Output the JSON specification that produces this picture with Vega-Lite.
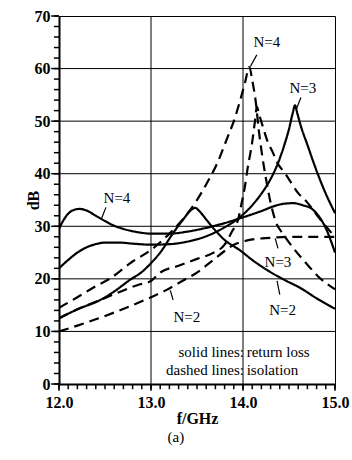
{
  "$schema": "https://vega.github.io/schema/vega-lite/v6.json",
  "width": 276,
  "height": 368,
  "autosize": {"type": "none"},
  "padding": {"left": 59, "top": 16, "right": 17, "bottom": 76},
  "background": "white",
  "config": {"view": {"stroke": "black", "strokeWidth": 1}, "font": "Liberation Serif"},
  "datasets": {
    "vgrid": [{"x": 13}, {"x": 14}],
    "hgrid": [{"y": 10}, {"y": 20}, {"y": 30}, {"y": 40}, {"y": 50}, {"y": 60}],
    "yticks": [{"y": 0}, {"y": 2}, {"y": 4}, {"y": 6}, {"y": 8}, {"y": 10}, {"y": 12}, {"y": 14}, {"y": 16}, {"y": 18}, {"y": 20}, {"y": 22}, {"y": 24}, {"y": 26}, {"y": 28}, {"y": 30}, {"y": 32}, {"y": 34}, {"y": 36}, {"y": 38}, {"y": 40}, {"y": 42}, {"y": 44}, {"y": 46}, {"y": 48}, {"y": 50}, {"y": 52}, {"y": 54}, {"y": 56}, {"y": 58}, {"y": 60}, {"y": 62}, {"y": 64}, {"y": 66}, {"y": 68}, {"y": 70}],
    "ymajor": [{"y": 0}, {"y": 10}, {"y": 20}, {"y": 30}, {"y": 40}, {"y": 50}, {"y": 60}, {"y": 70}],
    "xticks": [{"x": 12}, {"x": 12.1}, {"x": 12.2}, {"x": 12.3}, {"x": 12.4}, {"x": 12.5}, {"x": 12.6}, {"x": 12.7}, {"x": 12.8}, {"x": 12.9}, {"x": 13}, {"x": 13.1}, {"x": 13.2}, {"x": 13.3}, {"x": 13.4}, {"x": 13.5}, {"x": 13.6}, {"x": 13.7}, {"x": 13.8}, {"x": 13.9}, {"x": 14}, {"x": 14.1}, {"x": 14.2}, {"x": 14.3}, {"x": 14.4}, {"x": 14.5}, {"x": 14.6}, {"x": 14.7}, {"x": 14.8}, {"x": 14.9}, {"x": 15}],
    "xmajor": [{"x": 12}, {"x": 13}, {"x": 14}, {"x": 15}],
    "curves": [
      {"curve": "N4s", "style": "solid", "x": 12.0, "y": 29.5},
      {"curve": "N4s", "style": "solid", "x": 12.05, "y": 31.2},
      {"curve": "N4s", "style": "solid", "x": 12.1, "y": 32.4},
      {"curve": "N4s", "style": "solid", "x": 12.16, "y": 33.1},
      {"curve": "N4s", "style": "solid", "x": 12.22, "y": 33.3},
      {"curve": "N4s", "style": "solid", "x": 12.3, "y": 33.0},
      {"curve": "N4s", "style": "solid", "x": 12.4, "y": 32.0},
      {"curve": "N4s", "style": "solid", "x": 12.5, "y": 31.0},
      {"curve": "N4s", "style": "solid", "x": 12.6, "y": 30.1},
      {"curve": "N4s", "style": "solid", "x": 12.7, "y": 29.5},
      {"curve": "N4s", "style": "solid", "x": 12.85, "y": 28.9},
      {"curve": "N4s", "style": "solid", "x": 13.0, "y": 28.6},
      {"curve": "N4s", "style": "solid", "x": 13.2, "y": 28.6},
      {"curve": "N4s", "style": "solid", "x": 13.4, "y": 29.0},
      {"curve": "N4s", "style": "solid", "x": 13.6, "y": 29.7},
      {"curve": "N4s", "style": "solid", "x": 13.8, "y": 30.6},
      {"curve": "N4s", "style": "solid", "x": 14.0, "y": 31.7},
      {"curve": "N4s", "style": "solid", "x": 14.2, "y": 32.9},
      {"curve": "N4s", "style": "solid", "x": 14.35, "y": 33.9},
      {"curve": "N4s", "style": "solid", "x": 14.45, "y": 34.3},
      {"curve": "N4s", "style": "solid", "x": 14.55, "y": 34.4},
      {"curve": "N4s", "style": "solid", "x": 14.65, "y": 34.0},
      {"curve": "N4s", "style": "solid", "x": 14.75, "y": 33.3},
      {"curve": "N4s", "style": "solid", "x": 14.82, "y": 32.0},
      {"curve": "N4s", "style": "solid", "x": 14.89, "y": 30.0},
      {"curve": "N4s", "style": "solid", "x": 14.95, "y": 27.5},
      {"curve": "N4s", "style": "solid", "x": 15.0, "y": 25.0},

      {"curve": "N3s", "style": "solid", "x": 12.0, "y": 22.0},
      {"curve": "N3s", "style": "solid", "x": 12.1, "y": 23.6},
      {"curve": "N3s", "style": "solid", "x": 12.2, "y": 25.0},
      {"curve": "N3s", "style": "solid", "x": 12.3, "y": 26.0},
      {"curve": "N3s", "style": "solid", "x": 12.4, "y": 26.6},
      {"curve": "N3s", "style": "solid", "x": 12.5, "y": 26.9},
      {"curve": "N3s", "style": "solid", "x": 12.65, "y": 26.9},
      {"curve": "N3s", "style": "solid", "x": 12.8, "y": 26.7},
      {"curve": "N3s", "style": "solid", "x": 13.0, "y": 26.5},
      {"curve": "N3s", "style": "solid", "x": 13.2, "y": 26.6},
      {"curve": "N3s", "style": "solid", "x": 13.4, "y": 27.1},
      {"curve": "N3s", "style": "solid", "x": 13.6, "y": 28.1},
      {"curve": "N3s", "style": "solid", "x": 13.8, "y": 29.8},
      {"curve": "N3s", "style": "solid", "x": 13.95, "y": 31.5},
      {"curve": "N3s", "style": "solid", "x": 14.1, "y": 34.0},
      {"curve": "N3s", "style": "solid", "x": 14.2, "y": 36.2},
      {"curve": "N3s", "style": "solid", "x": 14.3, "y": 39.0},
      {"curve": "N3s", "style": "solid", "x": 14.38, "y": 42.0},
      {"curve": "N3s", "style": "solid", "x": 14.45, "y": 45.5},
      {"curve": "N3s", "style": "solid", "x": 14.5, "y": 48.5},
      {"curve": "N3s", "style": "solid", "x": 14.54, "y": 51.5},
      {"curve": "N3s", "style": "solid", "x": 14.565, "y": 53.0},
      {"curve": "N3s", "style": "solid", "x": 14.59, "y": 51.5},
      {"curve": "N3s", "style": "solid", "x": 14.63, "y": 49.0},
      {"curve": "N3s", "style": "solid", "x": 14.7, "y": 45.5},
      {"curve": "N3s", "style": "solid", "x": 14.78, "y": 41.5},
      {"curve": "N3s", "style": "solid", "x": 14.88, "y": 37.0},
      {"curve": "N3s", "style": "solid", "x": 15.0, "y": 32.5},

      {"curve": "N2s", "style": "solid", "x": 12.0, "y": 12.5},
      {"curve": "N2s", "style": "solid", "x": 12.2, "y": 14.2},
      {"curve": "N2s", "style": "solid", "x": 12.45, "y": 16.0},
      {"curve": "N2s", "style": "solid", "x": 12.6, "y": 17.6},
      {"curve": "N2s", "style": "solid", "x": 12.77, "y": 19.8},
      {"curve": "N2s", "style": "solid", "x": 12.9, "y": 21.3},
      {"curve": "N2s", "style": "solid", "x": 13.0, "y": 23.0},
      {"curve": "N2s", "style": "solid", "x": 13.1, "y": 25.0},
      {"curve": "N2s", "style": "solid", "x": 13.24, "y": 28.7},
      {"curve": "N2s", "style": "solid", "x": 13.35, "y": 31.3},
      {"curve": "N2s", "style": "solid", "x": 13.43, "y": 33.0},
      {"curve": "N2s", "style": "solid", "x": 13.48, "y": 33.5},
      {"curve": "N2s", "style": "solid", "x": 13.53, "y": 32.8},
      {"curve": "N2s", "style": "solid", "x": 13.6, "y": 31.3},
      {"curve": "N2s", "style": "solid", "x": 13.67, "y": 29.8},
      {"curve": "N2s", "style": "solid", "x": 13.8, "y": 27.4},
      {"curve": "N2s", "style": "solid", "x": 13.97, "y": 25.4},
      {"curve": "N2s", "style": "solid", "x": 14.1, "y": 23.6},
      {"curve": "N2s", "style": "solid", "x": 14.26, "y": 21.7},
      {"curve": "N2s", "style": "solid", "x": 14.45, "y": 19.8},
      {"curve": "N2s", "style": "solid", "x": 14.62, "y": 18.3},
      {"curve": "N2s", "style": "solid", "x": 14.8, "y": 16.3},
      {"curve": "N2s", "style": "solid", "x": 15.0, "y": 14.3},

      {"curve": "N4d", "style": "dashed", "x": 12.0, "y": 14.5},
      {"curve": "N4d", "style": "dashed", "x": 12.2, "y": 16.5},
      {"curve": "N4d", "style": "dashed", "x": 12.4, "y": 18.6},
      {"curve": "N4d", "style": "dashed", "x": 12.55, "y": 20.0},
      {"curve": "N4d", "style": "dashed", "x": 12.8, "y": 23.3},
      {"curve": "N4d", "style": "dashed", "x": 13.0, "y": 25.5},
      {"curve": "N4d", "style": "dashed", "x": 13.2, "y": 28.6},
      {"curve": "N4d", "style": "dashed", "x": 13.32, "y": 30.8},
      {"curve": "N4d", "style": "dashed", "x": 13.5, "y": 35.0},
      {"curve": "N4d", "style": "dashed", "x": 13.62, "y": 38.6},
      {"curve": "N4d", "style": "dashed", "x": 13.72, "y": 42.0},
      {"curve": "N4d", "style": "dashed", "x": 13.82, "y": 46.4},
      {"curve": "N4d", "style": "dashed", "x": 13.9, "y": 50.0},
      {"curve": "N4d", "style": "dashed", "x": 13.97, "y": 54.0},
      {"curve": "N4d", "style": "dashed", "x": 14.02, "y": 57.2},
      {"curve": "N4d", "style": "dashed", "x": 14.07, "y": 60.3},
      {"curve": "N4d", "style": "dashed", "x": 14.1, "y": 57.8},
      {"curve": "N4d", "style": "dashed", "x": 14.14, "y": 53.5},
      {"curve": "N4d", "style": "dashed", "x": 14.17, "y": 48.5},
      {"curve": "N4d", "style": "dashed", "x": 14.2, "y": 44.5},
      {"curve": "N4d", "style": "dashed", "x": 14.25, "y": 39.0},
      {"curve": "N4d", "style": "dashed", "x": 14.3, "y": 34.5},
      {"curve": "N4d", "style": "dashed", "x": 14.35, "y": 31.2},
      {"curve": "N4d", "style": "dashed", "x": 14.45, "y": 28.2},
      {"curve": "N4d", "style": "dashed", "x": 14.55, "y": 25.8},
      {"curve": "N4d", "style": "dashed", "x": 14.7, "y": 22.7},
      {"curve": "N4d", "style": "dashed", "x": 14.82, "y": 20.4},
      {"curve": "N4d", "style": "dashed", "x": 15.0, "y": 18.0},

      {"curve": "N3d", "style": "dashed", "x": 12.0, "y": 12.5},
      {"curve": "N3d", "style": "dashed", "x": 12.2, "y": 14.2},
      {"curve": "N3d", "style": "dashed", "x": 12.45, "y": 16.0},
      {"curve": "N3d", "style": "dashed", "x": 12.7, "y": 17.8},
      {"curve": "N3d", "style": "dashed", "x": 12.85, "y": 18.8},
      {"curve": "N3d", "style": "dashed", "x": 13.0, "y": 19.6},
      {"curve": "N3d", "style": "dashed", "x": 13.1, "y": 21.2},
      {"curve": "N3d", "style": "dashed", "x": 13.3, "y": 22.5},
      {"curve": "N3d", "style": "dashed", "x": 13.5, "y": 23.8},
      {"curve": "N3d", "style": "dashed", "x": 13.67, "y": 24.9},
      {"curve": "N3d", "style": "dashed", "x": 13.8, "y": 26.5},
      {"curve": "N3d", "style": "dashed", "x": 13.88, "y": 29.0},
      {"curve": "N3d", "style": "dashed", "x": 13.95, "y": 31.5},
      {"curve": "N3d", "style": "dashed", "x": 13.98, "y": 34.0},
      {"curve": "N3d", "style": "dashed", "x": 14.02, "y": 37.5},
      {"curve": "N3d", "style": "dashed", "x": 14.05, "y": 41.0},
      {"curve": "N3d", "style": "dashed", "x": 14.1, "y": 46.0},
      {"curve": "N3d", "style": "dashed", "x": 14.13, "y": 50.0},
      {"curve": "N3d", "style": "dashed", "x": 14.15, "y": 52.7},
      {"curve": "N3d", "style": "dashed", "x": 14.18, "y": 51.0},
      {"curve": "N3d", "style": "dashed", "x": 14.22, "y": 48.7},
      {"curve": "N3d", "style": "dashed", "x": 14.27, "y": 46.0},
      {"curve": "N3d", "style": "dashed", "x": 14.32, "y": 44.2},
      {"curve": "N3d", "style": "dashed", "x": 14.37, "y": 42.2},
      {"curve": "N3d", "style": "dashed", "x": 14.46, "y": 40.0},
      {"curve": "N3d", "style": "dashed", "x": 14.6, "y": 36.3},
      {"curve": "N3d", "style": "dashed", "x": 14.7, "y": 34.5},
      {"curve": "N3d", "style": "dashed", "x": 14.8, "y": 32.2},
      {"curve": "N3d", "style": "dashed", "x": 14.9, "y": 30.0},
      {"curve": "N3d", "style": "dashed", "x": 15.0, "y": 28.0},

      {"curve": "N2d", "style": "dashed", "x": 12.0, "y": 10.0},
      {"curve": "N2d", "style": "dashed", "x": 12.2, "y": 11.1},
      {"curve": "N2d", "style": "dashed", "x": 12.4, "y": 12.3},
      {"curve": "N2d", "style": "dashed", "x": 12.6, "y": 13.6},
      {"curve": "N2d", "style": "dashed", "x": 12.8, "y": 15.0},
      {"curve": "N2d", "style": "dashed", "x": 13.0, "y": 16.5},
      {"curve": "N2d", "style": "dashed", "x": 13.17, "y": 17.9},
      {"curve": "N2d", "style": "dashed", "x": 13.35, "y": 19.7},
      {"curve": "N2d", "style": "dashed", "x": 13.5, "y": 21.2},
      {"curve": "N2d", "style": "dashed", "x": 13.67, "y": 23.5},
      {"curve": "N2d", "style": "dashed", "x": 13.8, "y": 25.3},
      {"curve": "N2d", "style": "dashed", "x": 13.9, "y": 26.5},
      {"curve": "N2d", "style": "dashed", "x": 14.0, "y": 27.1},
      {"curve": "N2d", "style": "dashed", "x": 14.1, "y": 27.5},
      {"curve": "N2d", "style": "dashed", "x": 14.3, "y": 27.8},
      {"curve": "N2d", "style": "dashed", "x": 14.5, "y": 28.0},
      {"curve": "N2d", "style": "dashed", "x": 15.0, "y": 28.0}
    ],
    "pointers": [
      {"x": 12.51, "y": 33.6, "x2": 12.46, "y2": 31.4},
      {"x": 14.15, "y": 62.6, "x2": 14.08, "y2": 60.4},
      {"x": 14.63, "y": 54.5, "x2": 14.58, "y2": 52.3},
      {"x": 13.24, "y": 16.0, "x2": 13.21, "y2": 17.8},
      {"x": 14.38, "y": 25.8, "x2": 14.35, "y2": 27.7},
      {"x": 14.4, "y": 17.0, "x2": 14.37, "y2": 19.6}
    ],
    "labels": [
      {"x": 12.63, "y": 35.4, "t": "N=4"},
      {"x": 14.26, "y": 65.1, "t": "N=4"},
      {"x": 14.65, "y": 56.3, "t": "N=3"},
      {"x": 13.39, "y": 12.7, "t": "N=2"},
      {"x": 14.38, "y": 23.2, "t": "N=3"},
      {"x": 14.43, "y": 14.1, "t": "N=2"},
      {"x": 13.27, "y": -10.0, "t": "(a)"}
    ],
    "legendL": [
      {"x": 14.01, "y": 6.1, "t": "solid lines:"},
      {"x": 14.01, "y": 2.7, "t": "dashed lines:"}
    ],
    "legendR": [
      {"x": 14.04, "y": 6.1, "t": "return loss"},
      {"x": 14.04, "y": 2.7, "t": "isolation"}
    ]
  },
  "layer": [
    {
      "data": {"name": "curves"},
      "mark": {"type": "line", "color": "black", "strokeWidth": 2.2, "interpolate": "monotone", "clip": true},
      "encoding": {
        "x": {
          "field": "x", "type": "quantitative",
          "scale": {"domain": [12, 15], "nice": false, "zero": false},
          "axis": {
            "values": [12, 13, 14, 15],
            "format": ".1f",
            "labelFont": "Liberation Serif", "labelFontWeight": "bold", "labelFontSize": 16, "labelColor": "black",
            "labelPadding": 10, "labelFlush": false, "labelOverlap": false,
            "ticks": false,
            "grid": false,
            "domainColor": "black", "domainWidth": 2,
            "title": "f/GHz", "titleFont": "Liberation Serif", "titleFontWeight": "bold", "titleFontSize": 16, "titleColor": "black",
            "titleX": 138, "titleY": 34, "titleAlign": "center", "titleBaseline": "middle"
          }
        },
        "y": {
          "field": "y", "type": "quantitative",
          "scale": {"domain": [0, 70], "nice": false},
          "axis": {
            "values": [0, 10, 20, 30, 40, 50, 60, 70],
            "format": "d",
            "labelFont": "Liberation Serif", "labelFontWeight": "bold", "labelFontSize": 16, "labelColor": "black",
            "labelPadding": 9, "labelOverlap": false, "labelFlush": false,
            "ticks": false,
            "grid": false,
            "domainColor": "black", "domainWidth": 2,
            "title": "dB", "titleFont": "Liberation Serif", "titleFontWeight": "bold", "titleFontSize": 16, "titleColor": "black",
            "titleX": -26, "titleY": 184, "titleAlign": "center", "titleBaseline": "middle", "titleAngle": -90
          }
        },
        "detail": {"field": "curve", "type": "nominal"},
        "strokeDash": {
          "field": "style", "type": "nominal",
          "scale": {"domain": ["solid", "dashed"], "range": [[1, 0], [10, 6]]},
          "legend": null
        }
      }
    },
    {
      "data": {"name": "vgrid"},
      "mark": {"type": "rule", "color": "black", "strokeWidth": 1},
      "encoding": {"x": {"field": "x", "type": "quantitative"}}
    },
    {
      "data": {"name": "hgrid"},
      "mark": {"type": "rule", "color": "black", "strokeWidth": 1},
      "encoding": {"y": {"field": "y", "type": "quantitative"}}
    },
    {
      "data": {"name": "yticks"},
      "mark": {"type": "rule", "color": "black", "strokeWidth": 1.5, "clip": false},
      "encoding": {
        "y": {"field": "y", "type": "quantitative"},
        "x": {"datum": 11.945, "type": "quantitative"},
        "x2": {"datum": 12}
      }
    },
    {
      "data": {"name": "ymajor"},
      "mark": {"type": "rule", "color": "black", "strokeWidth": 1.5, "clip": false},
      "encoding": {
        "y": {"field": "y", "type": "quantitative"},
        "x": {"datum": 11.915, "type": "quantitative"},
        "x2": {"datum": 12}
      }
    },
    {
      "data": {"name": "xticks"},
      "mark": {"type": "rule", "color": "black", "strokeWidth": 1.5, "clip": false},
      "encoding": {
        "x": {"field": "x", "type": "quantitative"},
        "y": {"datum": -1.0, "type": "quantitative"},
        "y2": {"datum": 0}
      }
    },
    {
      "data": {"name": "xmajor"},
      "mark": {"type": "rule", "color": "black", "strokeWidth": 1.5, "clip": false},
      "encoding": {
        "x": {"field": "x", "type": "quantitative"},
        "y": {"datum": -1.3, "type": "quantitative"},
        "y2": {"datum": 0}
      }
    },
    {
      "data": {"name": "pointers"},
      "mark": {"type": "rule", "color": "black", "strokeWidth": 1.2},
      "encoding": {
        "x": {"field": "x", "type": "quantitative"},
        "y": {"field": "y", "type": "quantitative"},
        "x2": {"field": "x2"},
        "y2": {"field": "y2"}
      }
    },
    {
      "data": {"name": "labels"},
      "mark": {"type": "text", "font": "Liberation Serif", "fontSize": 15, "color": "black", "align": "center", "baseline": "middle", "clip": false},
      "encoding": {
        "x": {"field": "x", "type": "quantitative"},
        "y": {"field": "y", "type": "quantitative"},
        "text": {"field": "t"}
      }
    },
    {
      "data": {"name": "legendL"},
      "mark": {"type": "text", "font": "Liberation Serif", "fontSize": 15, "color": "black", "align": "right", "baseline": "middle"},
      "encoding": {
        "x": {"field": "x", "type": "quantitative"},
        "y": {"field": "y", "type": "quantitative"},
        "text": {"field": "t"}
      }
    },
    {
      "data": {"name": "legendR"},
      "mark": {"type": "text", "font": "Liberation Serif", "fontSize": 15, "color": "black", "align": "left", "baseline": "middle"},
      "encoding": {
        "x": {"field": "x", "type": "quantitative"},
        "y": {"field": "y", "type": "quantitative"},
        "text": {"field": "t"}
      }
    }
  ]
}
